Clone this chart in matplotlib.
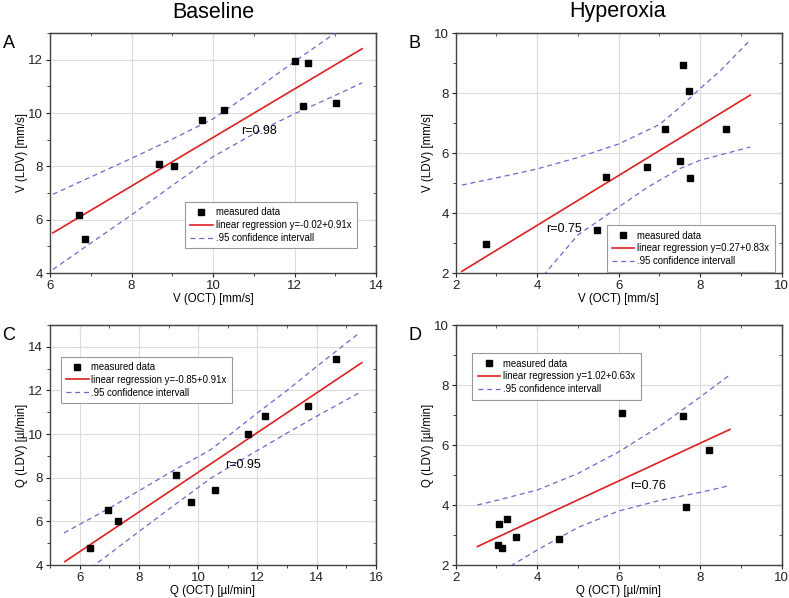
import matplotlib
matplotlib.use("Agg")
import matplotlib.pyplot as plt
from matplotlib.ticker import MultipleLocator

plt.rcParams['font.family'] = ['Liberation Sans', 'DejaVu Sans']

# --- panel A: baseline velocity ---
a_x = [6.72, 6.86, 8.67, 9.05, 9.74, 10.26, 12.02, 12.33, 12.20, 13.02]
a_y = [6.16, 5.27, 8.08, 8.03, 9.75, 10.10, 11.94, 11.88, 10.26, 10.36]
a_fit_x = [6.07, 13.66]
a_up_x = [6.07, 7, 8, 9, 10, 11, 12, 13.0, 13.66]
a_up_y = [6.95, 7.60, 8.30, 9.02, 9.78, 10.83, 11.93, 13.0, 13.72]
a_lo_x = [6.07, 7, 8, 9, 10, 11, 12, 13, 13.66]
a_lo_y = [4.13, 5.12, 6.18, 7.28, 8.36, 9.22, 9.97, 10.66, 11.13]

# --- panel B: hyperoxia velocity ---
b_x = [2.74, 5.47, 5.69, 6.70, 7.14, 7.50, 7.58, 7.72, 7.74, 8.64]
b_y = [2.97, 3.44, 5.20, 5.55, 6.81, 5.72, 8.94, 8.08, 5.17, 6.79]
b_fit_x = [2.15, 9.23]
b_up_x = [2.15, 3, 4, 5, 6, 7, 7.5, 8, 8.5, 9.23]
b_up_y = [4.93, 5.17, 5.47, 5.85, 6.30, 6.95, 7.52, 8.15, 8.75, 9.77]
b_lo_x = [3.3, 4.2, 5, 6, 6.7, 7.5, 8, 9.23]
b_lo_y = [0.6, 2.0, 3.27, 4.20, 4.85, 5.48, 5.76, 6.20]

# --- panel C: baseline flow ---
c_x = [6.34, 6.96, 7.29, 9.25, 9.76, 10.57, 11.69, 12.24, 13.70, 14.65]
c_y = [4.79, 6.52, 6.03, 8.12, 6.87, 7.43, 10.00, 10.82, 11.27, 13.44]
c_fit_x = [5.5, 15.52]
c_up_x = [5.47, 7, 8, 9, 10.45, 12, 13, 14, 15.46]
c_up_y = [5.47, 6.60, 7.40, 8.20, 9.31, 10.97, 12.00, 13.10, 14.66]
c_lo_x = [5.47, 6.51, 8, 9, 10.45, 12, 13, 14, 15.46]
c_lo_y = [2.85, 4.00, 5.53, 6.55, 8.00, 9.25, 10.05, 10.82, 11.91]

# --- panel D: hyperoxia flow ---
d_x = [3.04, 3.07, 3.13, 3.27, 3.48, 4.53, 6.07, 7.59, 7.64, 8.22]
d_y = [2.68, 3.38, 2.58, 3.52, 2.94, 2.86, 7.08, 6.97, 3.92, 5.84]
d_fit_x = [2.53, 8.73]
d_up_x = [2.53, 3, 4, 5, 6, 7, 8, 8.73]
d_up_y = [4.00, 4.15, 4.50, 5.05, 5.77, 6.62, 7.60, 8.34]
d_lo_x = [2.8, 3.39, 4, 5, 6, 7, 8, 8.73]
d_lo_y = [1.5, 2.00, 2.50, 3.25, 3.80, 4.15, 4.42, 4.65]

panels = [
    dict(letter='A', x=a_x, y=a_y, fx=a_fit_x, b0=-0.02, b1=0.91,
         ux=a_up_x, uy=a_up_y, lx=a_lo_x, ly=a_lo_y, r='r=0.98', rpos=(10.68, 9.31),
         xlim=(6, 14), ylim=(4, 13), xl='V (OCT) [mm/s]', yl='V (LDV) [mm/s]',
         leg=(0.414, 0.296)),
    dict(letter='B', x=b_x, y=b_y, fx=b_fit_x, b0=0.27, b1=0.83,
         ux=b_up_x, uy=b_up_y, lx=b_lo_x, ly=b_lo_y, r='r=0.75', rpos=(4.21, 3.45),
         xlim=(2, 10), ylim=(2, 10), xl='V (OCT) [mm/s]', yl='V (LDV) [mm/s]',
         leg=(0.463, 0.199)),
    dict(letter='C', x=c_x, y=c_y, fx=c_fit_x, b0=-0.85, b1=0.91,
         ux=c_up_x, uy=c_up_y, lx=c_lo_x, ly=c_lo_y, r='r=0.95', rpos=(10.91, 8.59),
         xlim=(5, 16), ylim=(4, 15), xl='Q (OCT) [µl/min]', yl='Q (LDV) [µl/min]',
         leg=(0.033, 0.868)),
    dict(letter='D', x=d_x, y=d_y, fx=d_fit_x, b0=1.02, b1=0.63,
         ux=d_up_x, uy=d_up_y, lx=d_lo_x, ly=d_lo_y, r='r=0.76', rpos=(6.28, 4.63),
         xlim=(2, 10), ylim=(2, 10), xl='Q (OCT) [µl/min]', yl='Q (LDV) [µl/min]',
         leg=(0.051, 0.882)),
]

W, H = 789, 598
fig = plt.figure(figsize=(W / 100, H / 100), dpi=100)
boxes = [(50, 33), (455.7, 33), (50, 325), (455.7, 325)]

red = '#dd2020'
blue = '#6a6acc'

for p, (lx0, ty) in zip(panels, boxes):
    ax = fig.add_axes([lx0 / W, 1 - (ty + 240) / H, 326 / W, 240 / H])
    ax.grid(True, color='#dcdcdc', lw=0.8)
    ax.set_axisbelow(True)

    ax.plot(p['x'], p['y'], 's', color='black', ms=4.5, label='measured data', zorder=4)
    fy = [p['b0'] + p['b1'] * v for v in p['fx']]
    ax.plot(p['fx'], fy, '-', color=red, lw=1.2,
            label='linear regression y=%.2f+%.2fx' % (p['b0'], p['b1']), zorder=3)
    ax.plot(p['ux'], p['uy'], '--', color=blue, lw=0.9, dashes=(4, 3),
            label='.95 confidence intervall', zorder=3)
    ax.plot(p['lx'], p['ly'], '--', color=blue, lw=0.9, dashes=(4, 3), zorder=3)

    ax.text(p['rpos'][0], p['rpos'][1], p['r'], fontsize=9, va='center', ha='left')

    ax.set_xlim(*p['xlim'])
    ax.set_ylim(*p['ylim'])
    ax.xaxis.set_major_locator(MultipleLocator(2))
    ax.xaxis.set_minor_locator(MultipleLocator(1))
    ax.yaxis.set_major_locator(MultipleLocator(2))
    ax.yaxis.set_minor_locator(MultipleLocator(1))
    ax.tick_params(which='both', direction='out', labelsize=9.5, colors='#222222',
                   top=False, right=False, pad=2)
    ax.tick_params(which='major', length=3)
    ax.tick_params(which='minor', length=2)
    for sp in ax.spines.values():
        sp.set_color('#444444')
        sp.set_linewidth(1.0)

    # mirrored inward ticks on top and right
    sec = ax.secondary_xaxis('top')
    sec.xaxis.set_major_locator(MultipleLocator(2))
    sec.xaxis.set_minor_locator(MultipleLocator(1))
    sec.tick_params(which='both', direction='in', labeltop=False, colors='#444444')
    sec.tick_params(which='major', length=3.5)
    sec.tick_params(which='minor', length=2.5)
    secy = ax.secondary_yaxis('right')
    secy.yaxis.set_major_locator(MultipleLocator(2))
    secy.yaxis.set_minor_locator(MultipleLocator(1))
    secy.tick_params(which='both', direction='in', labelright=False, colors='#444444')
    secy.tick_params(which='major', length=3.5)
    secy.tick_params(which='minor', length=2.5)

    ax.set_xlabel(p['xl'], fontsize=8.3, labelpad=1)
    ax.set_ylabel(p['yl'], fontsize=8.3, labelpad=0)

    leg = ax.legend(loc='upper left', bbox_to_anchor=p['leg'], borderaxespad=0,
                    fontsize=6.9, numpoints=1, handlelength=2.35, handletextpad=0.3,
                    labelspacing=0.3, borderpad=0.55, fancybox=False,
                    framealpha=1, edgecolor='#999999')
    leg.get_frame().set_linewidth(0.8)
    leg.set_zorder(5)

    fig.text((lx0 - 41) / W, 1 - (ty + 11) / H, p['letter'], fontsize=13,
             ha='center', va='center')

fig.text(213 / W, 1 - 12 / H, 'Baseline', fontsize=15.5, ha='center', va='center')
fig.text(618 / W, 1 - 12 / H, 'Hyperoxia', fontsize=15.5, ha='center', va='center')

fig.savefig('out.png', dpi=100)
